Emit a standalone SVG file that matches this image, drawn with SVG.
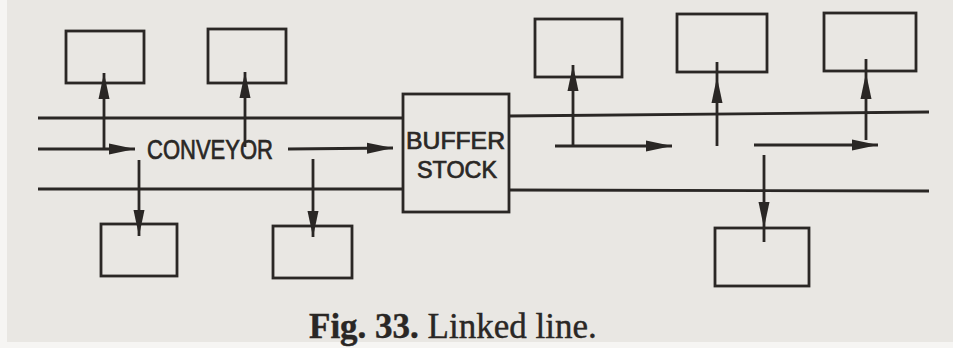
<svg xmlns="http://www.w3.org/2000/svg" width="953" height="348" viewBox="0 0 953 348">
<style>
.bg{fill:#e9e7e3}
.box{fill:none;stroke:#2a2725;stroke-width:2.8}
.ln{fill:none;stroke:#2a2725;stroke-width:2.8}
.lab{font-family:"Liberation Sans",Arial,sans-serif;fill:#2a2725;stroke:#2a2725;stroke-width:0.7}
.cap{font-family:"Liberation Serif","Times New Roman",serif;fill:#2a2725;font-size:35px;stroke:#2a2725;stroke-width:0.4}
</style>
<defs>
<marker id="ah" markerUnits="userSpaceOnUse" markerWidth="27" markerHeight="12" refX="26" refY="6" orient="auto" viewBox="0 0 27 12">
<path d="M0,0.5 L26,6 L0,11.5 Z" fill="#2a2725"/>
</marker>
</defs>
<rect class="bg" x="0" y="0" width="953" height="348"/>
<rect x="0" y="0" width="7" height="348" fill="#f6f5f3"/>
<rect x="0" y="342" width="953" height="6" fill="#f6f5f3"/>

<g id="connectors">
<line class="ln" x1="38" y1="118" x2="403" y2="118"/>
<line class="ln" x1="38" y1="189" x2="403" y2="189"/>
<line class="ln" x1="509" y1="116" x2="929" y2="112"/>
<line class="ln" x1="509" y1="190" x2="929" y2="191"/>
<line class="ln" x1="38" y1="149" x2="135" y2="149" marker-end="url(#ah)"/>
<line class="ln" x1="288" y1="149" x2="393" y2="148" marker-end="url(#ah)"/>
<line class="ln" x1="555" y1="146" x2="672" y2="146" marker-end="url(#ah)"/>
<line class="ln" x1="754" y1="145" x2="878" y2="145" marker-end="url(#ah)"/>
<line class="ln" x1="104" y1="149" x2="104" y2="73" marker-end="url(#ah)"/>
<line class="ln" x1="245" y1="147" x2="245" y2="72" marker-end="url(#ah)"/>
<line class="ln" x1="139" y1="160" x2="139" y2="236" marker-end="url(#ah)"/>
<line class="ln" x1="313" y1="159" x2="313" y2="237" marker-end="url(#ah)"/>
<line class="ln" x1="573" y1="146" x2="573" y2="65" marker-end="url(#ah)"/>
<polyline class="ln" points="717,146 717,77 717,62" marker-mid="url(#ah)"/>
<polyline class="ln" points="866,140 866,73 866,59" marker-mid="url(#ah)"/>
<polyline class="ln" points="764,155 764,228 764,242" marker-mid="url(#ah)"/>
</g>

<g id="conveyor-label">
<text class="lab" x="147" y="159" font-size="27" textLength="126" lengthAdjust="spacingAndGlyphs">CONVEYOR</text>
</g>

<g id="m-tl1"><rect class="box" x="66" y="31" width="78" height="52"/></g>
<g id="m-tl2"><rect class="box" x="208" y="29" width="78" height="54"/></g>
<g id="m-bl1"><rect class="box" x="101" y="224" width="76" height="52"/></g>
<g id="m-bl2"><rect class="box" x="273" y="226" width="79" height="52"/></g>

<g id="buffer-stock">
<rect class="box" x="403" y="94" width="106" height="118"/>
<text class="lab" x="406" y="149" font-size="23" textLength="99" lengthAdjust="spacingAndGlyphs">BUFFER</text>
<text class="lab" x="417" y="178" font-size="23" textLength="80" lengthAdjust="spacingAndGlyphs">STOCK</text>
</g>

<g id="m-tr1"><rect class="box" x="535" y="19" width="87" height="58"/></g>
<g id="m-tr2"><rect class="box" x="677" y="14" width="90" height="58"/></g>
<g id="m-tr3"><rect class="box" x="824" y="13" width="92" height="58"/></g>
<g id="m-br"><rect class="box" x="715" y="228" width="94" height="58"/></g>

<g id="caption">
<text class="cap" x="309" y="338"><tspan font-weight="bold">Fig. 33.</tspan> Linked line.</text>
</g>
</svg>
